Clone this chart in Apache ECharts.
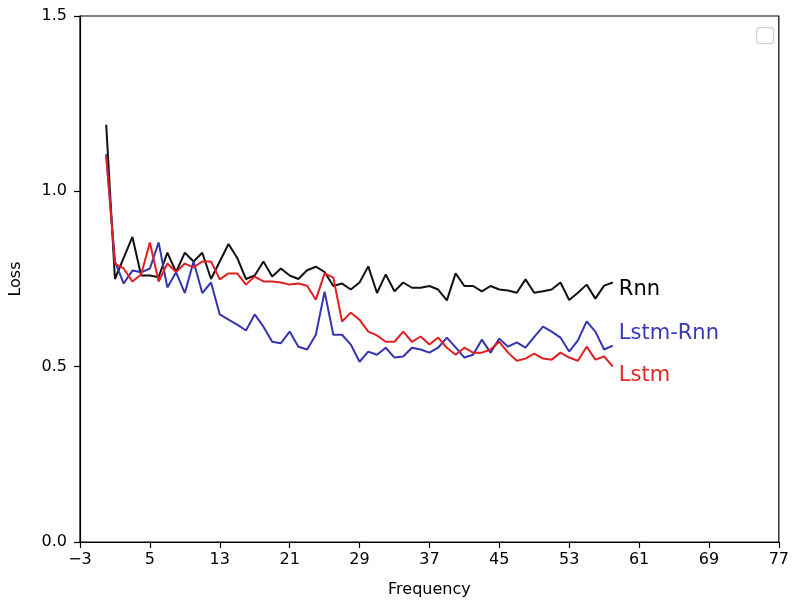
<!DOCTYPE html>
<html>
<head>
<meta charset="utf-8">
<script src="https://cdn.jsdelivr.net/npm/echarts@6/dist/echarts.min.js"></script>
<style>html,body{margin:0;padding:0;background:#fff}#c{width:792px;height:603px}</style>
</head>
<body>
<div id="c"></div>
<script>
const xs = [0,1,2,3,4,5,6,7,8,9,10,11,12,13,14,15,16,17,18,19,20,21,22,23,24,25,26,27,28,29,30,31,32,33,34,35,36,37,38,39,40,41,42,43,44,45,46,47,48,49,50,51,52,53,54,55,56,57,58];
const rnn = [1.19,0.75,0.81,0.87,0.76,0.76,0.755,0.825,0.77,0.825,0.80,0.825,0.75,0.80,0.85,0.81,0.75,0.76,0.80,0.757,0.78,0.76,0.75,0.775,0.785,0.77,0.73,0.737,0.72,0.74,0.786,0.71,0.763,0.715,0.74,0.725,0.725,0.73,0.72,0.689,0.766,0.73,0.73,0.715,0.73,0.72,0.717,0.711,0.749,0.711,0.715,0.72,0.74,0.69,0.711,0.734,0.694,0.731,0.74];
const lstmRnn = [1.106,0.80,0.737,0.774,0.769,0.78,0.854,0.726,0.769,0.71,0.80,0.71,0.74,0.649,0.634,0.62,0.603,0.649,0.614,0.571,0.567,0.60,0.557,0.549,0.591,0.714,0.591,0.591,0.563,0.514,0.543,0.534,0.554,0.526,0.529,0.554,0.549,0.54,0.554,0.583,0.555,0.526,0.534,0.577,0.54,0.58,0.557,0.569,0.554,0.585,0.614,0.60,0.583,0.543,0.575,0.629,0.60,0.549,0.56];
const lstm = [1.10,0.794,0.78,0.743,0.763,0.854,0.743,0.794,0.77,0.794,0.783,0.80,0.80,0.749,0.766,0.766,0.734,0.757,0.743,0.743,0.74,0.734,0.737,0.731,0.691,0.766,0.754,0.629,0.654,0.634,0.60,0.589,0.571,0.571,0.60,0.571,0.586,0.563,0.583,0.554,0.534,0.554,0.54,0.54,0.549,0.571,0.54,0.517,0.523,0.537,0.523,0.52,0.54,0.526,0.517,0.557,0.52,0.529,0.50];
const xTicks = {min: -3, max: 77, step: 8};
const yTicks = {min: 0, max: 1.5, step: 0.5};

const FONT = 'DejaVu Sans';
const pair = arr => xs.map((x, i) => [x, arr[i]]);

function mkSeries(name, arr, color, labelColor, dy) {
  return {
    name, type: 'line', data: pair(arr), showSymbol: false, symbol: 'none',
    lineStyle: {color, width: 2}, itemStyle: {color},
    animation: false,
    endLabel: {
      show: true, formatter: name, color: labelColor, fontFamily: FONT,
      fontSize: 21, distance: 6, offset: [0, dy]
    }
  };
}

const chart = echarts.init(document.getElementById('c'), null, {renderer: 'canvas'});
chart.setOption({
  backgroundColor: '#fff',
  animation: false,
  grid: {left: 77, right: 10, top: 16, bottom: 61, show: true, borderColor: '#000', borderWidth: 1.2, backgroundColor: 'transparent'},
  xAxis: {
    type: 'value', min: xTicks.min, max: xTicks.max, interval: xTicks.step,
    name: 'Frequency', nameLocation: 'middle', nameGap: 40,
    nameTextStyle: {fontFamily: FONT, fontSize: 16, color: '#000'},
    axisLine: {show: true, onZero: false, lineStyle: {color: '#000', width: 1.2}},
    axisTick: {show: true, length: 6, lineStyle: {color: '#000', width: 1.2}},
    axisLabel: {fontFamily: FONT, fontSize: 16, color: '#000', margin: 10,
      formatter: v => v < 0 ? '\u2212' + Math.abs(v) : String(v)},
    splitLine: {show: false}
  },
  yAxis: {
    type: 'value', min: yTicks.min, max: yTicks.max, interval: yTicks.step,
    name: 'Loss', nameLocation: 'middle', nameGap: 56,
    nameTextStyle: {fontFamily: FONT, fontSize: 16, color: '#000'},
    axisLine: {show: true, onZero: false, lineStyle: {color: '#000', width: 1.2}},
    axisTick: {show: true, length: 6, lineStyle: {color: '#000', width: 1.2}},
    axisLabel: {fontFamily: FONT, fontSize: 16, color: '#000', margin: 13,
      formatter: v => v.toFixed(1)},
    splitLine: {show: false}
  },
  graphic: [{
    type: 'rect', left: 756, top: 27,
    shape: {width: 17, height: 16, r: 3},
    style: {fill: '#fff', stroke: '#d0d0d0', lineWidth: 1.2}
  }],
  series: [
    mkSeries('Rnn', rnn, '#111111', '#000000', 7),
    mkSeries('Lstm-Rnn', lstmRnn, '#3535b0', '#3a3ab8', -12),
    mkSeries('Lstm', lstm, '#e02020', '#e02828', 9)
  ]
});
</script>
</body>
</html>
